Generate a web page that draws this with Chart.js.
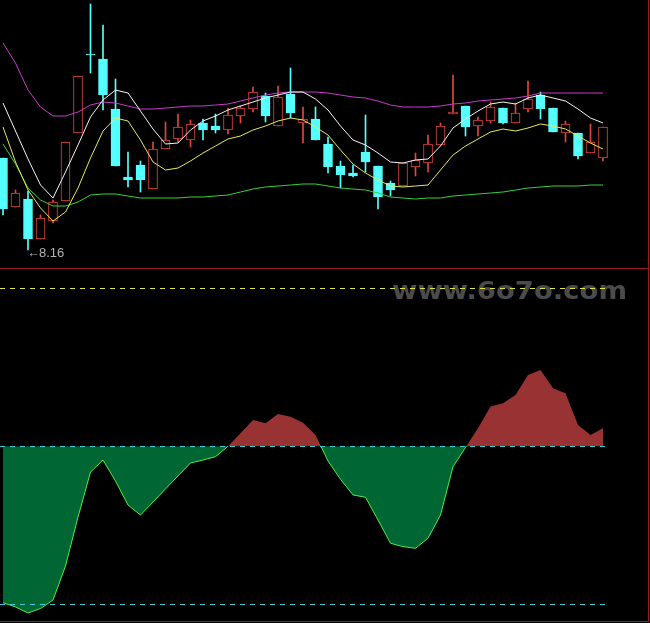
<!DOCTYPE html>
<html>
<head>
<meta charset="utf-8">
<title>K线与震荡指标</title>
<script src="https://cdn.jsdelivr.net/npm/chart.js@4.4.1/dist/chart.umd.min.js"></script>
<style>
  html, body { margin: 0; padding: 0; background: #000; }
  #wrap { position: relative; width: 650px; height: 623px; background: #000; overflow: hidden; }
  #pricePane { position: absolute; left: 0; top: 0; width: 650px; height: 268px; }
  #oscPane { position: absolute; left: 0; top: 269px; width: 650px; height: 352px; }
  .rule { position: absolute; background: #9b1c1c; }
</style>
</head>
<body>
<div id="wrap">
  <canvas id="pricePane" width="650" height="268"></canvas>
  <canvas id="oscPane" width="650" height="352"></canvas>
  <div class="rule" style="left:0;top:268px;width:649px;height:1px"></div>
  <div class="rule" style="left:648px;top:0;width:1px;height:622px"></div>
  <div class="rule" style="left:0;top:621px;width:649px;height:1px"></div>
</div>
<script>
// Daily OHLC
const opens  = [9.08,8.59,8.67,8.27,8.45,8.65,9.33,10.12,10.07,9.57,8.89,9.01,8.77,9.17,9.27,9.26,9.43,9.40,9.36,9.50,9.57,9.70,9.40,9.72,9.43,9.47,9.22,9.00,8.93,9.14,9.00,8.83,8.80,8.99,9.03,9.21,9.52,9.60,9.40,9.45,9.58,9.43,9.57,9.71,9.58,9.33,9.33,9.13,9.08];
const highs  = [9.08,8.76,8.75,8.51,8.66,9.24,9.90,10.62,10.41,9.87,9.14,9.05,9.24,9.44,9.52,9.46,9.47,9.52,9.58,9.60,9.79,9.73,9.80,9.98,9.59,9.59,9.29,9.05,9.01,9.51,9.00,8.85,9.03,9.13,9.31,9.43,9.91,9.60,9.49,9.64,9.58,9.63,9.85,9.74,9.58,9.45,9.33,9.42,9.39];
const lows   = [8.51,8.59,8.16,8.27,8.43,8.65,9.33,9.93,9.56,9.00,8.79,8.74,8.77,9.17,9.24,9.19,9.26,9.33,9.32,9.43,9.54,9.44,9.40,9.48,9.23,9.26,8.93,8.78,8.89,8.94,8.57,8.70,8.80,8.90,8.94,9.21,9.52,9.30,9.30,9.43,9.42,9.43,9.54,9.47,9.34,9.24,9.07,9.13,9.05];
const closes = [8.57,8.73,8.27,8.48,8.64,9.24,9.90,10.11,9.71,9.00,8.86,8.86,9.17,9.26,9.39,9.42,9.36,9.36,9.51,9.58,9.74,9.50,9.69,9.53,9.47,9.26,8.99,8.91,8.90,9.04,8.69,8.76,9.03,9.06,9.22,9.40,9.54,9.39,9.46,9.59,9.43,9.53,9.67,9.57,9.34,9.42,9.10,9.24,9.39];

// Overlay lines on the price pane
const maFast    = [9.63,9.35,9.07,8.81,8.68,8.94,9.21,9.49,9.66,9.76,9.73,9.55,9.37,9.22,9.23,9.36,9.45,9.50,9.56,9.60,9.64,9.68,9.71,9.74,9.74,9.67,9.56,9.40,9.26,9.21,9.13,9.04,9.03,9.06,9.07,9.20,9.38,9.47,9.55,9.62,9.64,9.62,9.68,9.71,9.68,9.65,9.57,9.48,9.43];
const maSlow    = [9.39,9.04,8.76,8.58,8.45,8.54,8.78,9.08,9.35,9.48,9.45,9.26,9.04,8.96,8.98,9.05,9.13,9.20,9.27,9.30,9.36,9.40,9.45,9.48,9.46,9.39,9.31,9.16,9.02,8.93,8.86,8.80,8.79,8.80,8.81,8.96,9.11,9.20,9.27,9.34,9.37,9.35,9.38,9.42,9.40,9.37,9.30,9.23,9.17];
const upperBand = [10.23,10.03,9.76,9.59,9.50,9.50,9.54,9.61,9.64,9.63,9.60,9.57,9.57,9.58,9.59,9.60,9.60,9.61,9.62,9.65,9.68,9.71,9.73,9.74,9.74,9.74,9.73,9.71,9.69,9.68,9.65,9.61,9.59,9.59,9.59,9.60,9.62,9.63,9.65,9.66,9.67,9.68,9.70,9.73,9.73,9.73,9.73,9.73,9.73];
const lowerBand = [9.22,9.02,8.78,8.66,8.60,8.60,8.64,8.71,8.72,8.72,8.70,8.68,8.68,8.68,8.68,8.69,8.69,8.70,8.71,8.74,8.77,8.79,8.80,8.81,8.82,8.82,8.80,8.78,8.77,8.76,8.73,8.69,8.68,8.67,8.68,8.68,8.70,8.71,8.72,8.73,8.74,8.76,8.78,8.79,8.80,8.80,8.80,8.81,8.81];

// Oscillator in the lower pane, with its guide levels
const oscillator = [-99.0,-101.7,-105.5,-102.7,-97.3,-75.8,-44.8,-16.3,-8.7,-22.0,-37.2,-43.5,-35.3,-27.0,-18.8,-10.6,-8.7,-6.6,0.0,8.2,16.6,14.6,20.4,18.7,14.9,7.2,-9.3,-20.9,-30.8,-32.3,-46.6,-61.4,-63.5,-64.6,-58.2,-43.5,-12.9,-0.8,11.4,25.1,27.2,32.5,45.1,48.3,36.7,33.5,13.5,7.2,11.4];
const oscLevels = [100, 0, -100];
const levelColors = ['#e4e44c', '#3cccd6', '#3cccd6'];

const sessions = opens.map((_, i) => i);

const UP = '#e0473c';
const DOWN = '#54ffff';
const isUp = i => closes[i] >= opens[i];

const xAxis = { type: 'linear', min: -0.24, max: 51.76, offset: false, display: false };

// Marks the lowest low with its price
const lowMarker = {
  id: 'lowMarker',
  afterDatasetsDraw(chart) {
    const { ctx, scales } = chart;
    let idx = 0;
    lows.forEach((v, i) => { if (v < lows[idx]) idx = i; });
    const x = scales.x.getPixelForValue(sessions[idx]);
    const y = scales.y.getPixelForValue(lows[idx]);
    ctx.save();
    ctx.font = '13px "Liberation Sans", Arial, sans-serif';
    ctx.fillStyle = '#b4b4b4';
    ctx.textAlign = 'left';
    ctx.textBaseline = 'middle';
    ctx.fillText('\u2190', x - 1, y + 3);
    ctx.fillText(lows[idx].toFixed(2), x + 11, y + 3);
    ctx.restore();
  }
};

const pts = arr => arr.map((v, i) => ({ x: sessions[i], y: v }));
const overlay = (data, color) => ({
  type: 'line', data: pts(data), borderColor: color, borderWidth: 1,
  pointRadius: 0, tension: 0, fill: false
});

new Chart(document.getElementById('pricePane'), {
  type: 'bar',
  data: {
    datasets: [
      overlay(maFast, '#f4f4f4'),
      overlay(maSlow, '#e8e85a'),
      overlay(upperBand, '#c83cc8'),
      overlay(lowerBand, '#38d038'),
      {
        // candle bodies
        data: sessions.map(i => ({ x: i, y: [opens[i], closes[i]] })),
        grouped: false,
        barThickness: 9,
        borderWidth: 1,
        borderSkipped: false,
        borderColor: c => isUp(c.dataIndex) ? UP : DOWN,
        backgroundColor: c => isUp(c.dataIndex) ? '#000000' : DOWN
      },
      {
        // high-low wicks
        data: sessions.map(i => ({ x: i, y: [lows[i], highs[i]] })),
        grouped: false,
        barThickness: 1,
        borderWidth: 0,
        backgroundColor: c => isUp(c.dataIndex) ? UP : DOWN
      }
    ]
  },
  options: {
    responsive: false,
    maintainAspectRatio: false,
    animation: false,
    events: [],
    layout: { padding: 0 },
    plugins: { legend: { display: false }, tooltip: { enabled: false } },
    scales: {
      x: xAxis,
      y: { min: 7.98, max: 10.66, display: false }
    }
  },
  plugins: [lowMarker]
});

// Site text behind the oscillator guides
const watermark = {
  id: 'watermark',
  beforeDatasetsDraw(chart) {
    const { ctx } = chart;
    const text = 'www.6o7o.com';
    ctx.save();
    ctx.font = 'bold 25px "DejaVu Sans", sans-serif';
    const w = ctx.measureText(text).width;
    ctx.translate(392, 30);
    ctx.scale(235 / w, 1);
    ctx.fillStyle = '#4b4b4b';
    ctx.textBaseline = 'alphabetic';
    ctx.fillText(text, 0, 0);
    ctx.restore();
  }
};

// Dashed horizontal guides at the oscillator levels
const guides = {
  id: 'guides',
  afterDatasetsDraw(chart) {
    const { ctx, scales, chartArea } = chart;
    const xEnd = scales.x.getPixelForValue(sessions[sessions.length - 1]) + 3;
    ctx.save();
    ctx.lineWidth = 1;
    ctx.setLineDash([5, 5]);
    oscLevels.forEach((lv, k) => {
      const y = Math.round(scales.y.getPixelForValue(lv)) + 0.5;
      ctx.strokeStyle = levelColors[k];
      ctx.beginPath();
      ctx.moveTo(chartArea.left, y);
      ctx.lineTo(xEnd, y);
      ctx.stroke();
    });
    ctx.restore();
  }
};

const OSC_LINE = '#48f03a';
new Chart(document.getElementById('oscPane'), {
  type: 'line',
  data: {
    datasets: [{
      data: pts(oscillator),
      borderWidth: 1,
      pointRadius: 0,
      tension: 0,
      fill: { target: { value: 0 }, above: '#993333', below: '#006633' },
      borderColor: c => {
        const { chart } = c;
        const area = chart.chartArea;
        if (!area) return OSC_LINE;
        const y0 = chart.scales.y.getPixelForValue(0);
        const t = Math.min(1, Math.max(0, (y0 - area.top) / (area.bottom - area.top)));
        const g = chart.ctx.createLinearGradient(0, area.top, 0, area.bottom);
        g.addColorStop(0, 'rgba(0,0,0,0)');
        g.addColorStop(t, 'rgba(0,0,0,0)');
        g.addColorStop(t, OSC_LINE);
        g.addColorStop(1, OSC_LINE);
        return g;
      }
    }]
  },
  options: {
    responsive: false,
    maintainAspectRatio: false,
    animation: false,
    events: [],
    layout: { padding: 0 },
    plugins: { legend: { display: false }, tooltip: { enabled: false } },
    scales: {
      x: xAxis,
      y: { min: -110.6, max: 112.2, display: false }
    }
  },
  plugins: [watermark, guides]
});
</script>
</body>
</html>
